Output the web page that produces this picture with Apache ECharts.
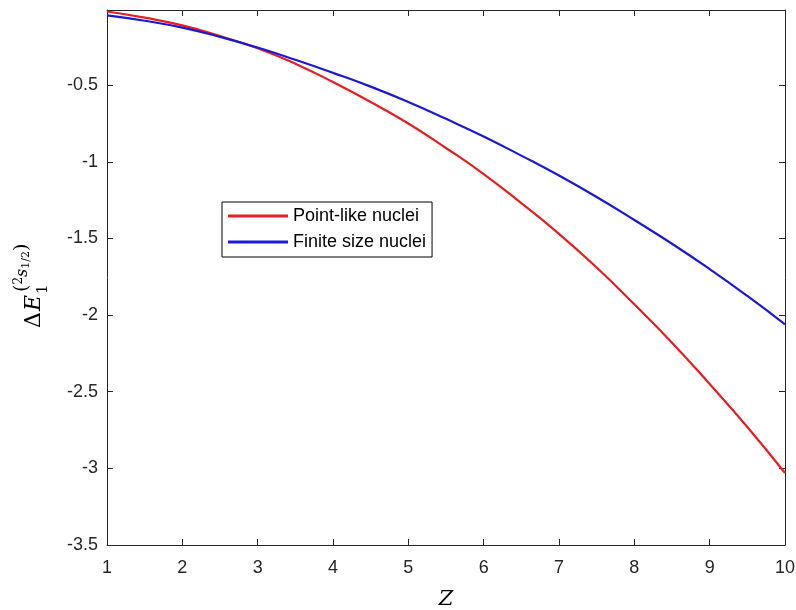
<!DOCTYPE html>
<html>
<head>
<meta charset="utf-8">
<script src="https://cdn.jsdelivr.net/npm/echarts@6/dist/echarts.min.js"></script>
<style>
    html, body {margin:0;padding:0;background:#ffffff;}
    #chart {width:796px;height:610px;}
</style>
</head>
<body>
<div id="chart"></div>
<script>
    // Z values (shared by both curves)
    var zValues = [1, 1.5, 2, 2.5, 3, 3.5, 4, 4.5, 5, 5.5, 6, 6.5, 7, 7.5, 8, 8.5, 9, 9.5, 10];
    var pointLike = [-0.02, -0.06, -0.11, -0.18, -0.26, -0.36, -0.48, -0.61, -0.75, -0.91, -1.08, -1.27, -1.47, -1.69, -1.93, -2.18, -2.45, -2.73, -3.03];
    var finiteSize = [-0.045, -0.08, -0.125, -0.185, -0.255, -0.335, -0.42, -0.51, -0.61, -0.72, -0.835, -0.96, -1.09, -1.23, -1.38, -1.535, -1.70, -1.875, -2.06];
    var seriesNames = ['Point-like nuclei', 'Finite size nuclei'];

    function pairs(xs, ys) {
        var out = [];
        for (var i = 0; i < xs.length; i++) {
            out.push([xs[i], ys[i]]);
        }
        return out;
    }

    var axisColor = '#262626';
    var labelFont = 'Arial, "Liberation Sans", sans-serif';
    var serif = '"DejaVu Serif", "Liberation Serif", serif';

    var myChart = echarts.init(document.getElementById('chart'));
    var option = {
        animation: false,
        backgroundColor: '#ffffff',
        grid: {left: 107, right: 11, top: 10, bottom: 65, outerBoundsMode: 'none'},
        legend: {
            orient: 'vertical',
            left: 222,
            top: 202,
            padding: [5, 6, 6, 6],
            itemGap: 8,
            itemWidth: 60,
            itemHeight: 3,
            icon: 'rect',
            borderColor: '#000000',
            borderWidth: 1,
            backgroundColor: '#ffffff',
            textStyle: {fontFamily: labelFont, fontSize: 18, color: '#000000'},
            data: seriesNames
        },
        xAxis: [{
            type: 'value',
            min: 1, max: 10, interval: 1,
            name: 'Z',
            nameLocation: 'middle',
            nameGap: 44,
            nameTextStyle: {fontFamily: serif, fontStyle: 'italic', fontSize: 21, color: '#000000'},
            axisLine: {lineStyle: {color: axisColor, width: 1}},
            axisTick: {inside: true, length: 6, lineStyle: {color: axisColor}},
            axisLabel: {fontFamily: labelFont, fontSize: 18, color: axisColor, margin: 14},
            splitLine: {show: false}
        }, {
            type: 'value',
            position: 'top',
            min: 1, max: 10, interval: 1,
            axisLine: {show: true, lineStyle: {color: axisColor, width: 1}},
            axisTick: {inside: true, length: 6, lineStyle: {color: axisColor}},
            axisLabel: {show: false},
            splitLine: {show: false}
        }],
        yAxis: [{
            type: 'value',
            min: -3.5, max: -0.01, interval: 0.5,
            axisLine: {show: true, lineStyle: {color: axisColor, width: 1}},
            axisTick: {inside: true, length: 6, lineStyle: {color: axisColor}},
            axisLabel: {fontFamily: labelFont, fontSize: 18, color: axisColor, margin: 9, showMaxLabel: false},
            splitLine: {show: false}
        }, {
            type: 'value',
            position: 'right',
            min: -3.5, max: -0.01, interval: 0.5,
            axisLine: {show: true, lineStyle: {color: axisColor, width: 1}},
            axisTick: {inside: true, length: 6, lineStyle: {color: axisColor}},
            axisLabel: {show: false},
            splitLine: {show: false}
        }],
        graphic: [{
            // y axis label, drawn rotated: Delta E_1^(2 s_1/2)
            type: 'group',
            x: 45,
            y: 328,
            rotation: Math.PI / 2,
            children: [{
                type: 'text',
                x: 0, y: 0,
                style: {text: 'Δ', font: '22px ' + serif, fill: '#000', verticalAlign: 'bottom'}
            }, {
                type: 'text',
                x: 17, y: 0,
                style: {text: 'E', font: 'italic 22px ' + serif, fill: '#000', verticalAlign: 'bottom'}
            }, {
                type: 'text',
                x: 34, y: 6,
                style: {text: '1', font: '15px ' + serif, fill: '#000', verticalAlign: 'bottom'}
            }, {
                type: 'text',
                x: 36, y: -13,
                style: {
                    text: '{p|(}{n|2}{s|s}{q|1/2}{p|)}',
                    fill: '#000',
                    verticalAlign: 'bottom',
                    rich: {
                        p: {font: '19px ' + serif, fill: '#000'},
                        n: {font: '12px ' + serif, fill: '#000', verticalAlign: 'top'},
                        s: {font: 'italic 16px ' + serif, fill: '#000'},
                        q: {font: '11px ' + serif, fill: '#000', verticalAlign: 'bottom'}
                    }
                }
            }]
        }],
        series: [{
            name: seriesNames[0],
            type: 'line',
            smooth: true,
            showSymbol: false,
            symbol: 'none',
            color: '#e41f1f',
            lineStyle: {width: 2.2, color: '#e41f1f'},
            data: pairs(zValues, pointLike)
        }, {
            name: seriesNames[1],
            type: 'line',
            smooth: true,
            showSymbol: false,
            symbol: 'none',
            color: '#1a1ad6',
            lineStyle: {width: 2.2, color: '#1a1ad6'},
            data: pairs(zValues, finiteSize)
        }]
    };
    myChart.setOption(option, true);
</script>
</body>
</html>
